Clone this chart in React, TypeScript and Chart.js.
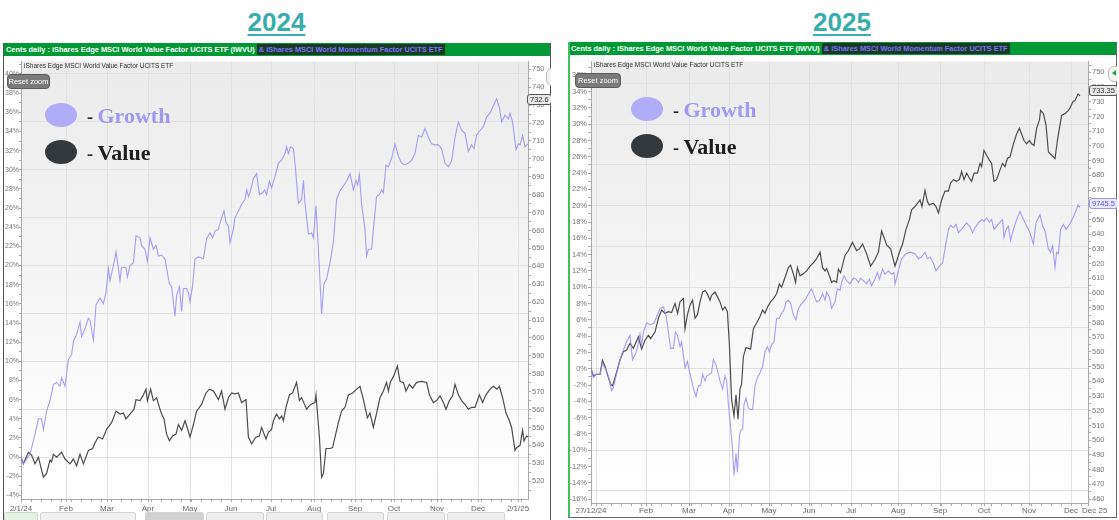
import React, { useEffect, useRef } from 'react';
import { Chart, registerables } from 'chart.js';
Chart.register(...registerables);

// ---------------- DATA (x = trading day index, y = % change) ----------------
const growth2024: [number, number][] = [[0,0],[1.2,-0.7],[4.5,0.3],[7,2.4],[8.7,4.0],[10.3,4.0],[11.2,2.9],[12.8,4.8],[14.5,5.9],[16.2,7.6],[17.8,7.8],[19.5,7.4],[20.3,8.3],[22,7.4],[23.7,10.2],[25.3,10.7],[26.2,12.1],[27.8,12.8],[29.5,14.1],[30.3,12.6],[32,13.4],[33.7,14.5],[34.5,14.3],[36.2,12.2],[37.5,15.9],[39.5,16.6],[41.2,16.0],[42.5,17.2],[43.7,19.7],[44.5,18.4],[46.5,20.3],[47.5,21.4],[48.3,20.3],[49.5,18.4],[50.3,19.8],[52.5,19.8],[53.2,18.8],[54.5,20.0],[56.2,20.3],[57.5,23.1],[59.5,22.9],[60.3,22.1],[62,21.7],[63.2,20.4],[64.5,22.9],[66.2,21.7],[67.5,22.1],[68.7,21.0],[70.3,21.1],[72,20.7],[72.8,19.7],[74.2,18.1],[75.3,17.8],[76.2,16.2],[77,14.7],[77.8,16.9],[79.2,17.8],[80.3,15.2],[81.2,17.6],[82.8,17.6],[83.7,17.2],[84.5,16.2],[85.8,17.9],[87,20.7],[88.7,20.9],[91.2,20.7],[92.8,22.8],[94.5,23.4],[95.8,22.9],[97,23.6],[98.7,23.8],[100.3,25.0],[101.5,25.7],[102.5,24.5],[103.7,24.1],[104.5,22.4],[106.2,23.8],[107,25.0],[108.7,25.7],[109.5,26.0],[110.3,26.4],[112,26.9],[112.8,27.9],[113.7,27.2],[114.5,27.6],[116.2,29.1],[117.8,29.6],[119.2,27.4],[120.8,27.6],[121.8,27.9],[122.8,27.4],[124.2,28.8],[125.3,28.1],[127,29.3],[128.7,30.7],[130.3,31.0],[132,31.7],[132.8,32.4],[133.7,31.7],[134.8,32.4],[136.2,32.2],[137,30.7],[138.7,26.5],[140.3,26.9],[141.2,28.9],[142,26.5],[143.7,23.3],[145.3,23.4],[146.2,22.9],[147.5,26.2],[148.7,21.7],[150.3,15.0],[151.5,18.1],[152.8,18.6],[154.5,20.3],[156.2,22.4],[157.8,26.9],[159.5,27.8],[161.2,28.3],[163,28.9],[164.5,29.6],[166.2,27.9],[167.5,28.9],[168.3,28.4],[169.2,29.5],[170.3,26.4],[172,23.8],[172.8,21.0],[173.7,21.7],[175.3,21.7],[176.5,24.5],[177.8,27.2],[179.2,27.4],[180.3,27.9],[181.2,27.6],[182.5,30.5],[183.7,30.3],[185.3,31.2],[187,32.7],[188.7,31.4],[190.3,30.7],[192,30.5],[193.7,30.7],[195.3,31.0],[197,31.7],[198.7,33.6],[200.3,33.4],[202,34.3],[203.7,33.4],[205.3,32.7],[207,32.6],[208.7,32.6],[210.3,32.2],[212,30.7],[213.7,30.3],[215.3,30.9],[217,33.4],[218.7,35.0],[220.3,34.1],[222,33.8],[223.7,31.9],[225.3,32.6],[226.5,32.2],[227.8,33.6],[229.5,34.1],[231.2,34.5],[232.8,35.5],[234.5,35.9],[236.2,36.7],[237.8,37.4],[239.2,36.5],[240.3,35.0],[242,35.7],[243.7,35.3],[244.5,35.9],[245.8,35.0],[247.5,32.1],[248.7,32.7],[249.5,32.6],[250.8,33.6],[252,32.4],[252.8,32.6],[253.5,32.7]];

const value2024: [number, number][] = [[0,0],[1.2,-0.7],[3.7,0.5],[5.3,0.2],[7,-0.7],[8.7,0.0],[11.2,-2.1],[12.8,-1.7],[14.5,-0.3],[15.3,-0.5],[16.2,0.3],[17.8,0.0],[20.3,0.5],[22,-0.2],[24.5,-0.7],[26.2,-0.2],[27.8,-0.9],[29.5,0.3],[31.2,-0.7],[33.7,0.7],[35.8,0.9],[37,1.5],[38.7,2.1],[40.8,1.9],[42.8,2.9],[45.3,3.6],[47.5,4.8],[49.5,4.5],[51.2,4.6],[52.5,4.0],[54.5,4.5],[56.5,5.0],[57.5,6.0],[59.5,5.9],[61.2,6.5],[62.5,7.1],[63.2,5.9],[64.8,7.1],[66.2,5.9],[67.8,6.2],[69.2,5.2],[70.3,4.5],[71.5,4.0],[72.8,2.4],[74.2,1.7],[75.8,2.2],[77.5,2.4],[78.7,3.4],[80.3,2.8],[82,3.8],[82.8,3.3],[84.5,2.1],[86.2,3.4],[87.8,4.8],[90.3,5.5],[92.5,6.7],[94.2,7.1],[96.2,6.9],[98.7,6.0],[100.3,6.9],[102,5.0],[103.7,6.2],[105.3,6.7],[107,6.6],[108.7,6.7],[110.3,5.7],[112.5,6.0],[113.7,2.1],[115.3,1.4],[117.5,2.1],[119.2,2.2],[120.3,3.1],[122.5,1.9],[123.7,2.6],[125.3,2.9],[126.2,3.8],[127.8,4.5],[129.2,4.0],[130.3,4.3],[131.2,3.8],[132.5,5.2],[134.2,6.5],[135.8,6.7],[137.8,7.8],[139.2,5.9],[140.3,6.2],[142.8,5.0],[144.8,5.5],[147,5.7],[147.5,6.5],[149.2,2.1],[150.3,-2.1],[151.2,-1.7],[152.5,0.9],[154.5,0.9],[155.8,1.0],[157,2.1],[158.7,3.6],[160.3,4.8],[162,5.2],[163.7,6.5],[165.8,6.7],[167.8,7.1],[169.5,7.4],[171.2,6.0],[173.2,4.1],[174.5,4.6],[176.2,3.1],[177.8,4.6],[179.5,6.2],[181.2,6.9],[182.8,7.8],[183.7,6.9],[184.8,7.9],[186.2,8.4],[188.2,9.5],[189.5,7.9],[191.2,7.8],[192.5,6.9],[194.2,7.6],[195.8,7.2],[197.8,7.8],[200.3,7.9],[202.8,7.8],[204.2,6.5],[206.2,5.7],[207.8,5.9],[209.5,6.4],[211.2,5.7],[212.5,5.0],[214.2,5.9],[215.8,6.4],[217,7.6],[218.7,6.5],[220.3,5.9],[222,5.5],[223.7,5.0],[225.3,5.2],[227,5.2],[229.2,6.5],[230.8,5.7],[232.5,6.5],[234.5,7.1],[236.2,7.4],[238,7.1],[239.2,7.4],[240.8,6.2],[242.5,4.6],[244.2,3.8],[245.3,3.1],[247,0.7],[247.8,1.0],[249.5,1.2],[250.8,2.8],[251.5,1.7],[252.8,2.2],[253.5,2.1]];

const growth2025: [number, number][] = [[0,0],[1.2,-1.1],[2.5,-0.7],[4.5,-0.7],[5.7,0.7],[7,0.1],[8.7,-0.9],[10.3,-2.7],[11.2,-2.3],[12.5,-0.9],[13.7,0.3],[15.3,1.7],[16.5,2.5],[17.8,3.3],[19.5,4.1],[20.8,1.1],[22,1.7],[23.2,2.5],[24.5,4.3],[25.3,2.9],[26.2,4.5],[27.8,5.6],[29.5,5.4],[31.5,5.6],[33.2,6.6],[34.5,7.4],[36.2,7.6],[37.5,6.6],[38.7,4.5],[39.8,2.5],[41.2,2.5],[42.2,4.5],[43.2,4.1],[44.5,2.7],[45.3,3.3],[47,0.1],[48.2,0.9],[49.2,-0.3],[50.3,-1.5],[51.5,-2.7],[52.5,-3.4],[53.7,-2.1],[54.8,-2.1],[55.8,-0.7],[57,-1.5],[57.8,-0.9],[59.2,-0.7],[60.3,-0.5],[61.2,1.1],[62.5,0.5],[63.7,-0.7],[64.5,-1.5],[65.8,-2.5],[67,-0.9],[67.8,-1.5],[68.7,-4.4],[69.8,-7.2],[70.8,-10.0],[71.5,-13.1],[72.5,-10.4],[73.2,-12.7],[74.2,-8.4],[74.8,-7.6],[75.8,-7.4],[76.5,-4.4],[77.5,-3.6],[78.7,-4.8],[79.8,-5.0],[80.8,-5.0],[82,-2.1],[83.2,-1.1],[84.5,-0.5],[85.8,0.3],[87,2.1],[88.2,2.7],[89.2,2.1],[90.3,2.9],[91.5,3.3],[92.8,6.2],[94.2,6.2],[95.3,6.8],[96.5,7.2],[97.5,8.2],[98.7,8.4],[99.8,8.0],[101.2,6.6],[102.5,6.0],[103.7,7.4],[104.8,7.8],[106.2,8.2],[107.5,8.6],[109.2,9.4],[110.3,9.8],[111.5,9.0],[112.8,8.2],[114.2,8.4],[115.8,9.2],[117,8.4],[117.8,9.4],[119.2,8.8],[120.3,7.4],[122,8.2],[123.2,9.8],[124.5,9.6],[125.3,10.6],[126.5,11.4],[127.8,10.8],[129.5,10.4],[131.2,11.1],[132.5,11.0],[133.7,10.6],[134.8,11.1],[136.2,10.8],[137.8,10.4],[139.2,11.0],[140.3,10.2],[142,11.0],[143.2,11.8],[144.2,11.0],[145.8,12.2],[147,11.6],[148.7,12.0],[150.3,11.6],[151.5,11.8],[152,10.4],[153.7,12.0],[155.3,13.5],[157.5,14.1],[159.5,14.3],[162,14.1],[163.7,13.5],[165.3,13.7],[167,14.3],[168.2,13.5],[169.5,13.7],[171.2,13.0],[172.5,12.0],[174.2,12.6],[175.8,13.0],[177,14.7],[178.7,17.1],[179.8,17.6],[181.2,17.3],[182.5,17.7],[183.7,16.7],[185.3,17.1],[186.5,17.5],[187.8,17.9],[189.5,17.4],[190.8,16.7],[192,17.3],[193.7,17.9],[195.3,18.3],[196.5,18.1],[197.8,18.5],[199.2,18.0],[200.3,18.3],[201.5,17.1],[202.8,17.5],[204.5,18.0],[205.8,18.3],[206.5,16.1],[207.5,17.1],[208.7,17.5],[209.8,15.7],[211.2,17.1],[212.8,18.3],[214.5,19.3],[216.2,18.3],[217.8,17.5],[219.5,16.7],[221.2,15.3],[222.5,17.9],[224.5,18.9],[225.8,17.5],[227,16.9],[228.7,14.7],[229.8,14.3],[230.8,15.1],[232,12.4],[232.8,14.3],[233.7,14.1],[234.8,17.1],[236.2,17.7],[237.5,17.1],[238.7,17.5],[239.5,17.8],[240.5,18.3],[241.5,18.8],[243,19.7],[243.5,20.1],[244.5,19.8]];

const value2025: [number, number][] = [[0,0],[1.2,-0.9],[2.5,-0.7],[4.5,-0.7],[5.7,1.0],[7,0.3],[8.2,-0.7],[9.8,-1.9],[10.8,-2.1],[12,-1.1],[13.2,-0.1],[14.5,1.1],[16.2,2.1],[17.8,2.3],[19.5,3.1],[21.2,2.5],[23.7,3.9],[25.3,2.4],[27,3.5],[28.7,4.1],[29.8,3.7],[32,4.5],[33.7,6.2],[35.3,7.2],[37,6.8],[38.7,7.0],[40.3,6.9],[42,8.0],[43.3,6.8],[44.5,8.2],[46.2,8.6],[47,4.9],[48.2,6.6],[49.5,7.8],[50.8,8.4],[52,6.2],[53.2,6.6],[54.5,8.2],[55.8,9.4],[57,9.6],[58.2,9.2],[59.5,8.4],[60.3,9.0],[62,9.4],[63.7,8.6],[64.5,8.2],[65.8,7.2],[67,7.6],[68.2,7.0],[69.2,2.9],[70.3,-3.8],[71.5,-5.8],[72.5,-3.2],[73.5,-6.2],[74.5,-2.5],[75.3,-1.9],[76.2,1.5],[77.5,2.6],[78.7,2.5],[79.8,2.4],[81.2,4.9],[82.8,5.6],[84.5,6.4],[85.8,7.2],[87,6.8],[88.3,7.6],[89.8,8.2],[91.2,8.6],[92.8,9.2],[94.2,10.4],[95.3,10.0],[97,11.2],[98.7,12.4],[99.8,12.7],[101.2,11.6],[102.3,10.6],[103.2,12.4],[104.5,11.4],[105.8,11.6],[107.8,12.0],[109.5,12.6],[111.2,13.0],[112.8,13.5],[114.5,14.3],[115.8,12.4],[117,12.0],[117.8,12.3],[119.2,11.4],[120.3,10.6],[121.5,10.8],[122.8,10.6],[123.7,12.2],[124.8,11.8],[127,13.9],[128.7,14.5],[130.7,15.5],[132.8,14.5],[134.2,14.7],[135.8,15.3],[137.8,14.1],[139.8,12.6],[142,13.4],[143.7,14.3],[145.3,16.9],[146.5,16.1],[147.8,15.2],[149.8,14.7],[152,12.6],[153.2,13.5],[154.5,14.5],[155.8,15.3],[157.5,17.1],[159.2,18.3],[160.3,19.5],[162,19.9],[163.2,20.3],[164.5,20.7],[165.5,19.9],[167,21.9],[168.2,20.5],[169.2,20.1],[171.2,20.3],[172.5,19.9],[173.7,19.1],[175.3,20.7],[177,21.8],[178.7,21.8],[179.8,22.8],[181.2,23.2],[182.8,23.0],[184.2,23.2],[185.3,24.2],[186.5,23.2],[187.8,24.0],[189.2,23.4],[190.3,23.0],[191.5,24.0],[193.2,24.0],[194.5,25.2],[195.3,24.8],[196.5,26.8],[197.8,26.2],[199.2,25.6],[200.3,25.2],[201.5,23.0],[202.8,23.2],[204.5,24.4],[205.8,25.2],[207,24.8],[208.2,25.8],[209.5,26.0],[211.2,27.6],[212.8,28.8],[214.2,29.5],[215.3,28.8],[216.5,28.0],[217.8,27.6],[219.2,28.0],[220.3,27.6],[221.5,27.4],[222.8,29.5],[224.2,30.5],[224.8,31.7],[226.2,31.3],[227.5,29.9],[228.7,26.6],[230.3,26.2],[232,25.8],[233.2,28.0],[234.2,29.5],[235.3,31.1],[237,31.3],[238.7,31.7],[239.5,32.0],[241,32.8],[242,32.9],[243.5,33.7],[244.5,33.5]];

const monthTicks2024 = [0, 22.5, 43, 63.5, 84.5, 105, 125, 146.5, 167, 186.5, 208, 228.5, 248.5];
const monthLabels2024 = ['2/1/24', 'Feb', 'Mar', 'Apr', 'May', 'Jun', 'Jul', 'Aug', 'Sep', 'Oct', 'Nov', 'Dec', '2/1/25'];
const monthTicks2025 = [0, 2.5, 27.5, 49, 69, 89, 109, 130, 153.5, 174.5, 196.5, 219, 240, 248.5];
const monthLabels2025 = ['27/12/24', '', 'Feb', 'Mar', 'Apr', 'May', 'Jun', 'Jul', 'Aug', 'Sep', 'Oct', 'Nov', 'Dec', '      Dec 25'];

const pctRange2024 = [-4.37, 41.3];
const pctRange2025 = [-16.48, 37.7];
const priceRange2024 = [510.05, 754.4];
const priceRange2025 = [457.3, 757.4];
const xMax2024 = 253.5;
const xMax2025 = 248.5;

// ---------------- STYLE ----------------
const SANS = '"Liberation Sans", Arial, Helvetica, sans-serif';
const SERIF = '"Liberation Serif", "Times New Roman", serif';
const GROWTH_LINE = 'rgba(150,142,246,0.85)';
const VALUE_LINE = '#4d4d4d';
const GRID = '#e1e1e1';
const AXIS = '#a8a8a8';

const bgPlugin = {
  id: 'plotBg',
  beforeDraw(chart: any) {
    const { ctx, chartArea: a } = chart;
    if (!a) return;
    const g = ctx.createLinearGradient(0, a.top, 0, a.bottom);
    g.addColorStop(0, '#ebebeb');
    g.addColorStop(1, '#ffffff');
    ctx.save();
    ctx.fillStyle = g;
    ctx.fillRect(a.left, a.top, a.right - a.left, a.bottom - a.top);
    ctx.restore();
  },
};

type Cfg = {
  growth: [number, number][];
  value: [number, number][];
  monthTicks: number[];
  monthLabels: string[];
  pctRange: number[];
  priceRange: number[];
  xMax: number;
  leftW: number;
  rightW: number;
  xAxisH: number;
  xPad: number;
  yFont: number;
  yTick: number;
  yPad: number;
};

function buildChart(canvas: HTMLCanvasElement, c: Cfg) {
  const labelMap = new Map<number, string>(c.monthTicks.map((v, i) => [v, c.monthLabels[i]]));
  const monthSet = new Set<number>(c.monthTicks);
  const pMin = c.pctRange[0];
  const pMax = c.pctRange[1];
  const prMin = c.priceRange[0];
  const prMax = c.priceRange[1];
  const font = { size: 7.5, family: SANS };
  return new Chart(canvas, {
    type: 'line',
    data: {
      datasets: [
        {
          label: 'Growth',
          data: c.growth.map(([x, y]) => ({ x, y })),
          borderColor: GROWTH_LINE,
          borderWidth: 1.1,
          pointRadius: 0,
          tension: 0,
          yAxisID: 'yPct',
        },
        {
          label: 'Value',
          data: c.value.map(([x, y]) => ({ x, y })),
          borderColor: VALUE_LINE,
          borderWidth: 1.2,
          pointRadius: 0,
          tension: 0,
          yAxisID: 'yPct',
        },
      ],
    },
    options: {
      animation: false,
      responsive: false,
      events: [],
      layout: { padding: { top: 1, left: 0, right: 0, bottom: 0 } },
      plugins: { legend: { display: false }, tooltip: { enabled: false } },
      scales: {
        x: {
          type: 'linear',
          min: 0,
          max: c.xMax,
          afterBuildTicks: (s: any) => {
            const vals = new Set<number>(c.monthTicks);
            for (let v = 0; v <= c.xMax; v += 5) vals.add(v);
            s.ticks = Array.from(vals).sort((a, b) => a - b).map((v) => ({ value: v }));
          },
          afterFit: (s: any) => { s.height = c.xAxisH; },
          grid: {
            color: (ctx: any) => (ctx.tick && monthSet.has(ctx.tick.value) ? GRID : 'rgba(0,0,0,0)'),
            tickColor: AXIS,
            tickLength: 3,
          },
          border: { color: AXIS },
          ticks: {
            autoSkip: false,
            maxRotation: 0,
            minRotation: 0,
            padding: c.xPad,
            color: '#666',
            font: { size: 8, family: SANS },
            callback: (v: any) => labelMap.get(v as number) ?? '',
          },
        },
        yPct: {
          type: 'linear',
          position: 'left',
          min: pMin,
          max: pMax,
          afterBuildTicks: (s: any) => {
            const t: any[] = [];
            for (let v = Math.ceil(pMin); v <= Math.floor(pMax); v++) t.push({ value: v });
            s.ticks = t;
          },
          afterFit: (s: any) => { s.width = c.leftW; },
          grid: {
            color: (ctx: any) => (ctx.tick && ctx.tick.value % 5 === 0 ? GRID : 'rgba(0,0,0,0)'),
            tickColor: AXIS,
            tickLength: c.yTick,
          },
          border: { color: AXIS },
          ticks: {
            autoSkip: false,
            padding: c.yPad,
            color: '#777',
            font: { size: c.yFont, family: SANS },
            callback: (v: any) => ((v as number) % 2 === 0 ? `${v}%` : ''),
          },
        },
        yPrice: {
          type: 'linear',
          position: 'right',
          min: prMin,
          max: prMax,
          afterBuildTicks: (s: any) => {
            const t: any[] = [];
            for (let v = Math.ceil(prMin / 5) * 5; v <= prMax; v += 5) t.push({ value: v });
            s.ticks = t;
          },
          afterFit: (s: any) => { s.width = c.rightW; },
          grid: { drawOnChartArea: false, tickColor: AXIS, tickLength: 3 },
          border: { color: AXIS },
          ticks: {
            autoSkip: false,
            padding: 1,
            color: '#777',
            font,
            callback: (v: any) => ((v as number) % 10 === 0 ? String(v) : ''),
          },
        },
      },
    } as any,
    plugins: [bgPlugin],
  });
}

function ChartCanvas(props: { left: number; top: number; width: number; height: number; cfg: Cfg }) {
  const ref = useRef<HTMLCanvasElement>(null);
  useEffect(() => {
    const chart = buildChart(ref.current as HTMLCanvasElement, props.cfg);
    return () => chart.destroy();
  }, []);
  return (
    <canvas
      ref={ref}
      width={props.width}
      height={props.height}
      style={{ position: 'absolute', left: props.left, top: props.top, width: props.width, height: props.height }}
    />
  );
}

function Header() {
  return (
    <div
      style={{
        position: 'absolute', left: 0, top: 0, right: 0, height: 13, background: '#009933',
        font: `bold 7.4px ${SANS}`, lineHeight: '13px', color: '#fff', whiteSpace: 'nowrap', paddingLeft: 3,
      }}
    >
      <span>Cents daily : iShares Edge MSCI World Value Factor UCITS ETF (IWVU) </span>
      <span style={{ display: 'inline-block', background: '#1b3a24', color: '#7676ff', height: 11, lineHeight: '11px', padding: '0 2px', verticalAlign: 'top', marginTop: 1 }}>
        &amp; iShares MSCI World Momentum Factor UCITS ETF
      </span>
    </div>
  );
}

function ResetZoom(props: { left: number; top: number; width: number }) {
  return (
    <div
      style={{
        position: 'absolute', left: props.left, top: props.top, width: props.width, height: 15, boxSizing: 'border-box',
        background: '#7b7b7b', border: '1px solid #5c5c5c', borderRadius: 4, color: '#fff',
        font: `7.5px ${SANS}`, lineHeight: '13px', textAlign: 'center',
      }}
    >
      Reset zoom
    </div>
  );
}

function Subtitle(props: { left: number; top: number }) {
  return (
    <div style={{ position: 'absolute', left: props.left, top: props.top, font: `6.5px ${SANS}`, lineHeight: '8px', color: '#333', whiteSpace: 'nowrap' }}>
      iShares Edge MSCI World Value Factor UCITS ETF
    </div>
  );
}

function Legend(props: { left: number; top: number }) {
  const { left, top } = props;
  const ell = (t: number, col: string) => (
    <div style={{ position: 'absolute', left, top: t, width: 32, height: 24, borderRadius: '50%', background: col }} />
  );
  const txt = (t: number, word: string, col: string) => (
    <div style={{ position: 'absolute', left: left + 42, top: t, font: `bold 22px ${SERIF}`, lineHeight: '22px', whiteSpace: 'nowrap' }}>
      <span style={{ color: '#222', fontSize: 18 }}>- </span>
      <span style={{ color: col }}>{word}</span>
    </div>
  );
  return (
    <>
      {ell(top, '#b1acf8')}
      {ell(top + 37, '#34393d')}
      {txt(top + 1.6, 'Growth', '#9f9af0')}
      {txt(top + 38.6, 'Value', '#1e1e1e')}
    </>
  );
}

function Flag(props: { left: number; top: number; text: string; purple?: boolean }) {
  const p = props.purple;
  return (
    <div
      style={{
        position: 'absolute', left: props.left, top: props.top, height: 11, boxSizing: 'border-box',
        border: `1px solid ${p ? '#9d98ee' : '#555'}`, borderRadius: 3, background: p ? '#e9e7ff' : '#e8e8e8',
        color: p ? '#5a54d8' : '#333', font: `7.5px ${SANS}`, lineHeight: '9px', padding: '0 2px', whiteSpace: 'nowrap',
      }}
    >
      {props.text}
    </div>
  );
}

const bottomButtons: [number, number, string][] = [
  [1, 34, '#e2f3e2'], [37, 96, '#f1f1f1'], [142, 59, '#d0d0d0'], [203, 58, '#eeeeee'],
  [263, 57, '#eeeeee'], [324, 57, '#eeeeee'], [384, 58, '#eeeeee'], [444, 58, '#eeeeee'],
];

export default function App() {
  const cfg2024: Cfg = {
    growth: growth2024, value: value2024, monthTicks: monthTicks2024, monthLabels: monthLabels2024,
    pctRange: pctRange2024, priceRange: priceRange2024, xMax: xMax2024, leftW: 18, rightW: 22, xAxisH: 21, xPad: 2,
    yFont: 7, yTick: 2, yPad: 0,
  };
  const cfg2025: Cfg = {
    growth: growth2025, value: value2025, monthTicks: monthTicks2025, monthLabels: monthLabels2025,
    pctRange: pctRange2025, priceRange: priceRange2025, xMax: xMax2025, leftW: 21, rightW: 28, xAxisH: 14, xPad: 0,
    yFont: 7.5, yTick: 3, yPad: 1,
  };
  const title = (left: number, width: number, text: string) => (
    <div
      style={{
        position: 'absolute', left, width, top: 9, textAlign: 'center', font: `bold 26px ${SANS}`, lineHeight: '26px',
        color: '#37aeab', textDecoration: 'underline', textDecorationThickness: 2, textUnderlineOffset: 3,
      }}
    >
      {text}
    </div>
  );
  return (
    <div style={{ position: 'absolute', left: 0, top: 0, width: 1119, height: 520, overflow: 'hidden', background: '#fff' }}>
      {title(0, 553, '2024')}
      {title(566, 552, '2025')}

      {/* 2024 panel */}
      <div style={{ position: 'absolute', left: 3, top: 43, width: 548, height: 477, overflow: 'hidden', background: '#fff' }}>
        <ChartCanvas left={0} top={13} width={547} height={464} cfg={cfg2024} />
        <Header />
        <div style={{ position: 'absolute', left: 0, top: 0, width: 1, height: 477, background: '#555' }} />
        <div style={{ position: 'absolute', left: 547, top: 0, width: 1, height: 477, background: '#555' }} />
        <Subtitle left={21} top={19} />
        <ResetZoom left={4} top={31} width={43} />
        <Legend left={42} top={60} />
        <Flag left={524} top={51} text="732.6" />
        <div style={{ position: 'absolute', left: 543, top: 25, width: 12, height: 16, border: '1px solid #bbb', borderRadius: 6, background: '#f2f2f2' }} />
        {bottomButtons.map(([l, w, col], i) => (
          <div key={i} style={{ position: 'absolute', left: l, top: 469, width: w, height: 12, boxSizing: 'border-box', background: col, border: '1px solid #d4d4d4', borderRadius: 2 }} />
        ))}
      </div>

      {/* 2025 panel */}
      <div style={{ position: 'absolute', left: 568, top: 42, width: 549, height: 476, overflow: 'hidden', background: '#fff' }}>
        <ChartCanvas left={2} top={14} width={546} height={461} cfg={cfg2025} />
        <div style={{ position: 'absolute', left: 0, top: 0, width: 549, height: 14 }}>
          <Header />
        </div>
        <div style={{ position: 'absolute', left: 0, top: 0, width: 2, height: 476, background: '#3cc35a' }} />
        <div style={{ position: 'absolute', left: 548, top: 0, width: 1, height: 476, background: '#666' }} />
        <div style={{ position: 'absolute', left: 0, top: 475, width: 549, height: 1, background: '#666' }} />
        <Subtitle left={26} top={19} />
        <ResetZoom left={7} top={31} width={46} />
        <Legend left={63} top={55.3} />
        <Flag left={521} top={43} text="733.35" />
        <Flag left={521} top={156} text="9745.5" purple />
        <div style={{ position: 'absolute', left: 540, top: 24, width: 12, height: 14, border: '1px solid #bbb', borderRadius: 6, background: '#f5f5f5' }} />
        <div style={{ position: 'absolute', left: 544, top: 28, width: 0, height: 0, borderTop: '3px solid transparent', borderBottom: '3px solid transparent', borderRight: '4px solid #2a9d3a' }} />
      </div>
    </div>
  );
}
